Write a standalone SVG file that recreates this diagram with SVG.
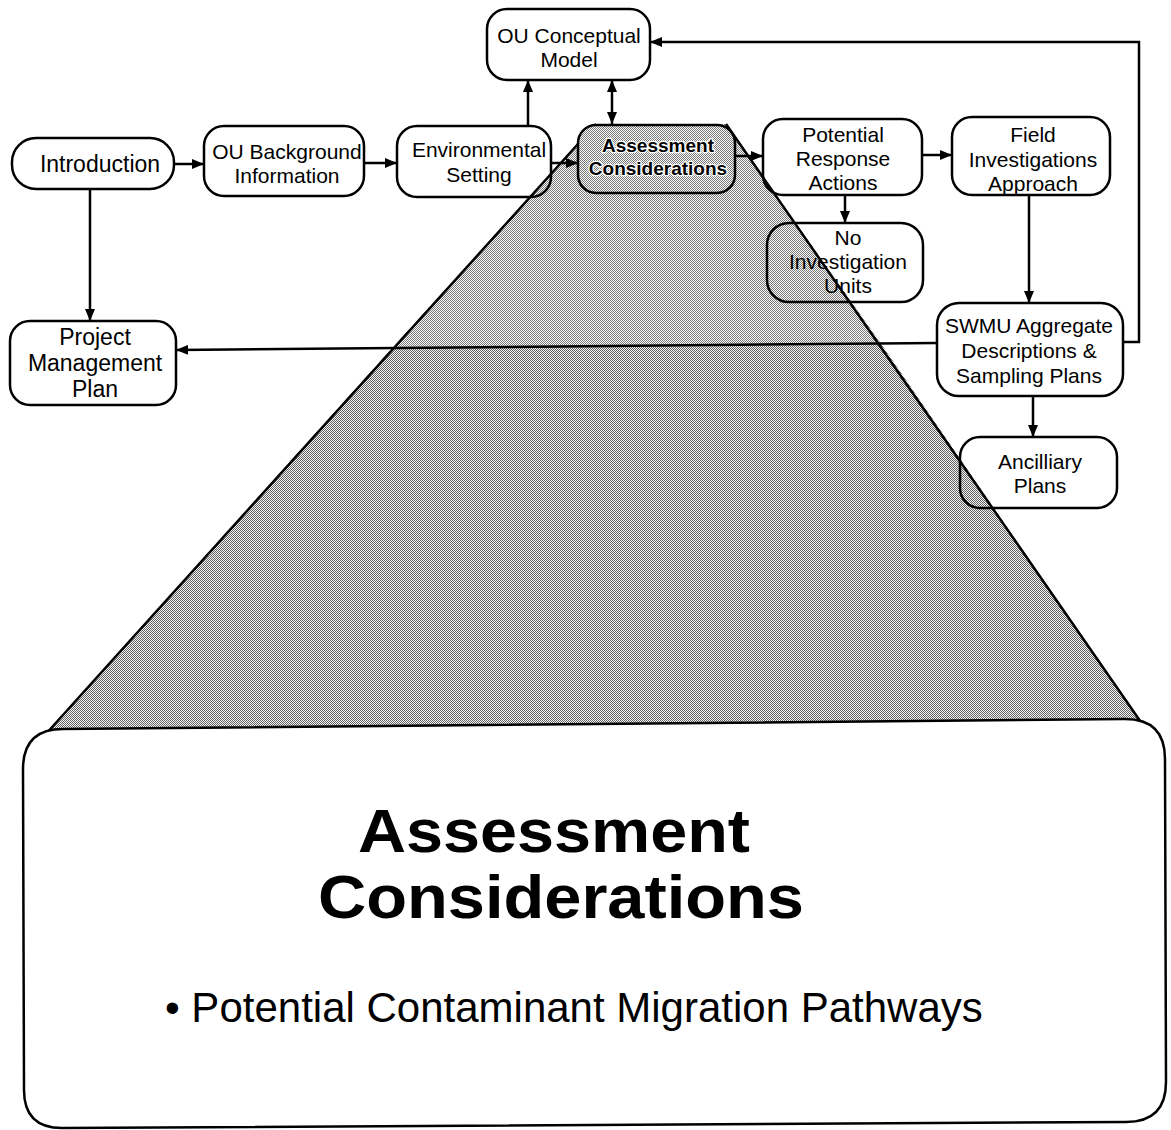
<svg xmlns="http://www.w3.org/2000/svg" width="1171" height="1130" viewBox="0 0 1171 1130">
  <defs>
    <style>
      .box { fill: none; stroke: #000; stroke-width: 2.5; }
      .lbl { font-family: "Liberation Sans", Arial, Helvetica, sans-serif; font-size: 21px; fill: #000; text-anchor: middle; }
      .big { font-size: 23px; }
      .hl { font-weight: bold; font-size: 19px; stroke: #fff; stroke-width: 2.5; paint-order: stroke; stroke-linejoin: round; }
      .wire { fill: none; stroke: #000; stroke-width: 2.5; }
      .title { font-family: "Liberation Sans", Arial, Helvetica, sans-serif; font-weight: bold; font-size: 62px; text-anchor: middle; fill: #000; }
      .bullet { font-family: "Liberation Sans", Arial, Helvetica, sans-serif; font-size: 42px; fill: #000; }
    </style>
    <!-- halftone screens for the funnel -->
    <pattern id="screenLight" width="2" height="2" patternUnits="userSpaceOnUse">
      <rect width="2" height="2" fill="#fcfcfc"/>
      <rect width="1" height="1" fill="#7a7a7a"/>
      <rect x="1" y="1" width="1" height="1" fill="#7a7a7a"/>
    </pattern>
    <pattern id="screenDark" width="2" height="2" patternUnits="userSpaceOnUse">
      <rect width="2" height="2" fill="#f6f6f6"/>
      <rect width="1" height="1" fill="#626262"/>
      <rect x="1" y="1" width="1" height="1" fill="#626262"/>
    </pattern>
    <marker id="ah" viewBox="0 0 12 10" refX="12" refY="5" markerWidth="12" markerHeight="10" markerUnits="userSpaceOnUse" orient="auto-start-reverse">
      <path d="M0,0 L12,5 L0,10 Z" fill="#000"/>
    </marker>
  </defs>

  <rect width="1171" height="1130" fill="#fff"/>

  <!-- funnel widening from the highlighted step to the detail panel -->
  <g id="funnel">
    <polygon points="392,348 882,345 1145,728 44,736" fill="url(#screenDark)"/>
    <polygon points="596,124 726,124 882,345 392,348" fill="url(#screenLight)"/>
    <path d="M596,124 L44,736 M726,124 L1145,728" class="wire"/>
  </g>

  <!-- connectors -->
  <g id="connectors">
    <line class="wire" x1="174" y1="164" x2="204" y2="164" marker-end="url(#ah)"/>
    <line class="wire" x1="364" y1="163" x2="397" y2="163" marker-end="url(#ah)"/>
    <line class="wire" x1="551" y1="163" x2="578" y2="163" marker-end="url(#ah)"/>
    <line class="wire" x1="735" y1="156" x2="763" y2="156" marker-end="url(#ah)"/>
    <line class="wire" x1="922" y1="155" x2="952" y2="155" marker-end="url(#ah)"/>
    <line class="wire" x1="845" y1="195" x2="845" y2="223" marker-end="url(#ah)"/>
    <line class="wire" x1="1029" y1="195" x2="1029" y2="303" marker-end="url(#ah)"/>
    <line class="wire" x1="1033" y1="396" x2="1033" y2="437" marker-end="url(#ah)"/>
    <line class="wire" x1="937" y1="343" x2="176" y2="350" marker-end="url(#ah)"/>
    <polyline class="wire" points="1123,342 1139,342 1139,42 650,42" marker-end="url(#ah)"/>
    <line class="wire" x1="528" y1="126" x2="528" y2="80" marker-end="url(#ah)"/>
    <line class="wire" x1="612" y1="80" x2="612" y2="124" marker-start="url(#ah)" marker-end="url(#ah)"/>
    <line class="wire" x1="90" y1="189" x2="90" y2="321" marker-end="url(#ah)"/>
  </g>

  <!-- process steps -->
  <g id="introduction">
    <rect class="box" x="12" y="138" width="162" height="51" rx="24"/>
    <text class="lbl big" x="100" y="172">Introduction</text>
  </g>
  <g id="ou-background">
    <rect class="box" x="204" y="126" width="160" height="70" rx="20"/>
    <text class="lbl" x="287" y="159">OU Background</text>
    <text class="lbl" x="287" y="183">Information</text>
  </g>
  <g id="environmental-setting">
    <rect class="box" x="397" y="126" width="154" height="71" rx="20"/>
    <text class="lbl" x="479" y="157">Environmental</text>
    <text class="lbl" x="479" y="182">Setting</text>
  </g>
  <g id="ou-conceptual-model">
    <rect class="box" x="487" y="9" width="163" height="71" rx="20"/>
    <text class="lbl" x="569" y="43">OU Conceptual</text>
    <text class="lbl" x="569" y="67">Model</text>
  </g>
  <g id="assessment-considerations">
    <rect x="578" y="125" width="157" height="68" rx="18" fill="url(#screenLight)" stroke="#000" stroke-width="2.5"/>
    <text class="lbl hl" x="658" y="152">Assessment</text>
    <text class="lbl hl" x="658" y="175">Considerations</text>
  </g>
  <g id="potential-response-actions">
    <rect class="box" x="763" y="119" width="159" height="76" rx="20"/>
    <text class="lbl" x="843" y="142">Potential</text>
    <text class="lbl" x="843" y="166">Response</text>
    <text class="lbl" x="843" y="190">Actions</text>
  </g>
  <g id="field-investigations-approach">
    <rect class="box" x="952" y="117" width="158" height="78" rx="20"/>
    <text class="lbl" x="1033" y="142">Field</text>
    <text class="lbl" x="1033" y="167">Investigations</text>
    <text class="lbl" x="1033" y="191">Approach</text>
  </g>
  <g id="no-investigation-units">
    <rect class="box" x="767" y="223" width="156" height="79" rx="22"/>
    <text class="lbl" x="848" y="245">No</text>
    <text class="lbl" x="848" y="269">Investigation</text>
    <text class="lbl" x="848" y="293">Units</text>
  </g>
  <g id="swmu-aggregate">
    <rect class="box" x="937" y="303" width="186" height="93" rx="22"/>
    <text class="lbl" x="1029" y="333">SWMU Aggregate</text>
    <text class="lbl" x="1029" y="358">Descriptions &amp;</text>
    <text class="lbl" x="1029" y="383">Sampling Plans</text>
  </g>
  <g id="ancilliary-plans">
    <rect class="box" x="960" y="437" width="157" height="71" rx="20"/>
    <text class="lbl" x="1040" y="469">Ancilliary</text>
    <text class="lbl" x="1040" y="493">Plans</text>
  </g>
  <g id="project-management-plan">
    <rect class="box" x="10" y="321" width="166" height="84" rx="20"/>
    <text class="lbl big" x="95" y="345">Project</text>
    <text class="lbl big" x="95" y="371">Management</text>
    <text class="lbl big" x="95" y="397">Plan</text>
  </g>

  <!-- detail panel for the highlighted step -->
  <g id="detail-panel">
    <path d="M63,729 L1125,719 Q1165,719 1165,759 L1166,1082 Q1166,1122 1126,1122 L62,1128 Q24,1128 24,1090 L23,769 Q23,729 63,729 Z" fill="#fff" stroke="#000" stroke-width="2.5"/>
    <text class="title" x="554" y="852" textLength="392" lengthAdjust="spacingAndGlyphs">Assessment</text>
    <text class="title" x="561" y="918" textLength="486" lengthAdjust="spacingAndGlyphs">Considerations</text>
    <text class="bullet" x="165" y="1022">• Potential Contaminant Migration Pathways</text>
  </g>
</svg>
